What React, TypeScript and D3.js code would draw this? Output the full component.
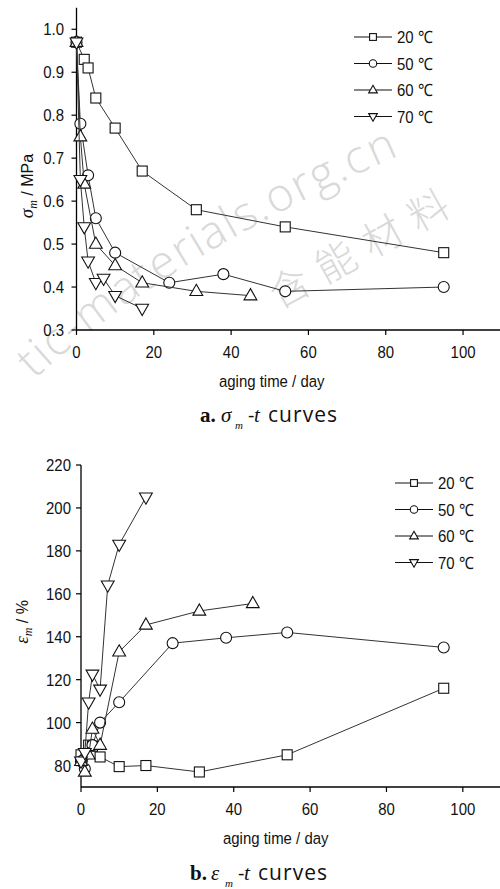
import React from 'react';
import * as d3 from 'd3';

// Legend labels and marker shapes, one per aging temperature
const tempLabels = ['20 ℃', '50 ℃', '60 ℃', '70 ℃'];
const markerShapes = ['square', 'circle', 'up', 'down'];

// Panel a: maximum tensile stress σm (MPa) vs aging time (day)
const stressDays20 = [0, 2, 3, 5, 10, 17, 31, 54, 95];
const stressVals20 = [0.97, 0.93, 0.91, 0.84, 0.77, 0.67, 0.58, 0.54, 0.48];
const stressDays50 = [0, 1, 3, 5, 10, 24, 38, 54, 95];
const stressVals50 = [0.97, 0.78, 0.66, 0.56, 0.48, 0.41, 0.43, 0.39, 0.40];
const stressDays60 = [0, 1, 2, 5, 10, 17, 31, 45];
const stressVals60 = [0.97, 0.75, 0.64, 0.50, 0.45, 0.41, 0.39, 0.38];
const stressDays70 = [0, 1, 2, 3, 5, 7, 10, 17];
const stressVals70 = [0.97, 0.65, 0.54, 0.46, 0.41, 0.42, 0.38, 0.35];

// Panel b: strain at maximum stress εm (%) vs aging time (day)
const strainDays20 = [0, 2, 3, 5, 10, 17, 31, 54, 95];
const strainVals20 = [85, 89.5, 89, 84, 79.5, 80, 77, 85, 116];
const strainDays50 = [0, 1, 3, 5, 10, 24, 38, 54, 95];
const strainVals50 = [82, 78.5, 89.5, 100, 109.5, 137, 139.5, 142, 135];
const strainDays60 = [0, 1, 2, 3, 5, 10, 17, 31, 45];
const strainVals60 = [82, 77, 85, 97, 89.5, 133, 145.5, 152, 155.5];
const strainDays70 = [0, 1, 2, 3, 5, 7, 10, 17];
const strainVals70 = [82, 86, 109.5, 122.5, 115.5, 164, 183, 205];

// Axis ticks
const xTicks = [0, 20, 40, 60, 80, 100];
const stressTicks = [0.3, 0.4, 0.5, 0.6, 0.7, 0.8, 0.9, 1.0];
const strainTicks = [80, 100, 120, 140, 160, 180, 200, 220];

// Watermark strings
const wmLatin = 'tic-materials.org.cn';
const wmChinese = '含能材料';

const SANS = "'Liberation Sans', Arial, sans-serif";
const SERIF = "'Liberation Serif', 'DejaVu Serif', serif";
const CAPTION = "'Open Sans', 'DejaVu Sans', sans-serif";
const WM_FONT = "'Open Sans', 'Liberation Sans', sans-serif";

type Pt = { d: number; v: number };
const zipPts = (days: number[], vals: number[]): Pt[] => days.map((d, i) => ({ d, v: vals[i] }));

const stressSeries = [
  zipPts(stressDays20, stressVals20),
  zipPts(stressDays50, stressVals50),
  zipPts(stressDays60, stressVals60),
  zipPts(stressDays70, stressVals70),
];
const strainSeries = [
  zipPts(strainDays20, strainVals20),
  zipPts(strainDays50, strainVals50),
  zipPts(strainDays60, strainVals60),
  zipPts(strainDays70, strainVals70),
];

// Lay single glyphs along a quadratic curve so the text follows an arc
type Glyph = { ch: string; x: number; y: number; a: number };
function layoutOnCurve(
  text: string,
  font: string,
  p0: [number, number],
  c: [number, number],
  p1: [number, number],
  fill: number
): Glyph[] {
  let widths: number[];
  try {
    const ctx = document.createElement('canvas').getContext('2d')!;
    ctx.font = font;
    widths = Array.from(text).map((ch) => ctx.measureText(ch).width);
  } catch {
    widths = Array.from(text).map(() => 20);
  }
  const N = 600;
  const pts: [number, number][] = [];
  for (let i = 0; i <= N; i++) {
    const t = i / N;
    const u = 1 - t;
    pts.push([u * u * p0[0] + 2 * u * t * c[0] + t * t * p1[0], u * u * p0[1] + 2 * u * t * c[1] + t * t * p1[1]]);
  }
  const cum = [0];
  for (let i = 1; i <= N; i++) cum.push(cum[i - 1] + Math.hypot(pts[i][0] - pts[i - 1][0], pts[i][1] - pts[i - 1][1]));
  const total = cum[N] * fill;
  const sumW = d3.sum(widths);
  const k = total / sumW;
  const out: Glyph[] = [];
  let acc = 0;
  Array.from(text).forEach((ch, i) => {
    const s = acc + (widths[i] * k) / 2;
    acc += widths[i] * k;
    const j = Math.min(N - 1, d3.bisectLeft(cum, s));
    const [ax, ay] = pts[Math.max(0, j - 1)];
    const [bx, by] = pts[j + 1 > N ? N : j + 1];
    out.push({ ch, x: pts[j][0], y: pts[j][1], a: (Math.atan2(by - ay, bx - ax) * 180) / Math.PI });
  });
  return out;
}

// Condensed sans text (horizontally squeezed Liberation Sans)
function NText({
  x,
  y,
  anchor = 'start',
  dy,
  children,
}: {
  x: number;
  y: number;
  anchor?: string;
  dy?: string;
  children: React.ReactNode;
}) {
  return (
    <text
      transform={`translate(${x},${y}) scale(0.88,1)`}
      textAnchor={anchor}
      dy={dy}
      fontFamily={SANS}
      fontSize={17}
      fill="#111"
    >
      {children}
    </text>
  );
}

function Marker({ shape, x, y, s = 1 }: { shape: string; x: number; y: number; s?: number }) {
  const common = { fill: '#fff', stroke: '#111', strokeWidth: 1.1 };
  if (shape === 'square') {
    const h = 5 * s;
    return <rect x={x - h} y={y - h} width={2 * h} height={2 * h} {...common} />;
  }
  if (shape === 'circle') {
    return <circle cx={x} cy={y} r={5.5 * s} {...common} />;
  }
  const dir = shape === 'up' ? 1 : -1;
  const p = d3.path();
  p.moveTo(x, y - 7 * s * dir);
  p.lineTo(x + 6.4 * s, y + 4.2 * s * dir);
  p.lineTo(x - 6.4 * s, y + 4.2 * s * dir);
  p.closePath();
  return <path d={p.toString()} {...common} />;
}

type PanelProps = {
  series: Pt[][];
  x: d3.ScaleLinear<number, number>;
  y: d3.ScaleLinear<number, number>;
  yTicks: number[];
  yFmt: (v: number) => string;
  yLabelRight: number;
  xTitleAt: number;
  legendX: number;
  legendY: number;
};

function Panel({ series, x, y, yTicks, yFmt, yLabelRight, xTitleAt, legendX, legendY }: PanelProps) {
  const [x0, x1] = x.range();
  const [yb, yt] = y.range();
  const line = d3
    .line<Pt>()
    .x((p) => x(p.d))
    .y((p) => y(p.v));
  return (
    <g>
      {/* axes */}
      <line x1={x0} x2={x0} y1={yb} y2={yt} stroke="#000" strokeWidth={1.3} />
      <line x1={x0} x2={x1} y1={yb} y2={yb} stroke="#000" strokeWidth={1.3} />
      {yTicks.map((t) => (
        <g key={'y' + t}>
          <line x1={x0 - 5} x2={x0} y1={y(t)} y2={y(t)} stroke="#000" strokeWidth={1.2} />
          <NText x={yLabelRight} y={y(t)} dy="0.36em" anchor="end">
            {yFmt(t)}
          </NText>
        </g>
      ))}
      {xTicks.map((t) => (
        <g key={'x' + t}>
          <line x1={x(t)} x2={x(t)} y1={yb} y2={yb + 5} stroke="#000" strokeWidth={1.2} />
          <NText x={x(t)} y={yb + 28} anchor="middle">
            {t}
          </NText>
        </g>
      ))}
      <NText x={x(xTitleAt)} y={yb + 57} anchor="middle">
        aging time / day
      </NText>
      {/* series */}
      {series.map((pts, i) => (
        <g key={'s' + i}>
          <path d={line(pts) || ''} fill="none" stroke="#333" strokeWidth={1} />
          {pts.map((p, j) => (
            <Marker key={j} shape={markerShapes[i]} x={x(p.d)} y={y(p.v)} />
          ))}
        </g>
      ))}
      {/* legend */}
      {tempLabels.map((lab, i) => {
        const ly = legendY + i * 26.5;
        return (
          <g key={'l' + i}>
            <line x1={legendX} x2={legendX + 38} y1={ly} y2={ly} stroke="#111" strokeWidth={1.2} />
            <Marker shape={markerShapes[i]} x={legendX + 19} y={ly} s={0.68} />
            <NText x={legendX + 43} y={ly} dy="0.36em">
              {lab}
            </NText>
          </g>
        );
      })}
    </g>
  );
}

function Caption({ x, y, letter, sym }: { x: number; y: number; letter: string; sym: string }) {
  return (
    <g fill="#111">
      <text x={x} y={y} fontFamily={SERIF} fontWeight="bold" fontSize={21}>
        {letter}
      </text>
      <text x={x + 21} y={y} fontFamily={SERIF} fontStyle="italic" fontSize={21}>
        {sym}
      </text>
      <text x={x + 35} y={y + 7} fontFamily={SERIF} fontStyle="italic" fontSize={11}>
        m
      </text>
      <text x={x + 48} y={y} fontFamily={CAPTION} fontSize={20}>
        -
      </text>
      <text x={x + 54} y={y} fontFamily={SERIF} fontStyle="italic" fontSize={21}>
        t
      </text>
      <text x={x + 68} y={y} fontFamily={CAPTION} fontSize={21} textLength={69} lengthAdjust="spacing">
        curves
      </text>
    </g>
  );
}

export default function App() {
  const xA = d3.scaleLinear().domain([0, 110]).range([76.5, 501.7]);
  const yA = d3.scaleLinear().domain([0.3, 1.05]).range([330, 7.8]);
  const xB = d3.scaleLinear().domain([0, 110]).range([81, 501]);
  const yB = d3.scaleLinear().domain([70, 220]).range([787, 465]);
  const fmtA = d3.format('.1f');
  const fmtB = d3.format('d');

  const latinGlyphs = layoutOnCurve(wmLatin, `300 46px ${WM_FONT}`, [34, 380], [166, 256], [412, 150], 0.97);
  // Chinese watermark: evenly spaced along a straight, tilted line
  const cjkAngle = -29;
  const cjkStep = 53;
  const cjkCenter: [number, number] = [359, 249];
  const rad = (cjkAngle * Math.PI) / 180;
  const cjkGlyphs = Array.from(wmChinese).map((ch, i) => {
    const off = (i - (wmChinese.length - 1) / 2) * cjkStep;
    return { ch, x: cjkCenter[0] + off * Math.cos(rad), y: cjkCenter[1] + off * Math.sin(rad) };
  });

  return (
    <svg
      width={500}
      height={889}
      viewBox="0 0 500 889"
      style={{ position: 'absolute', left: 0, top: 0, background: '#fff' }}
    >
      <rect x={0} y={0} width={500} height={889} fill="#fff" />

      {/* site watermark */}
      <g fill="#d9d9d9">
        {latinGlyphs.map((g, i) => (
          <text
            key={'wl' + i}
            x={g.x}
            y={g.y}
            textAnchor="middle"
            transform={`rotate(${g.a} ${g.x} ${g.y})`}
            fontFamily={WM_FONT}
            fontWeight={300}
            fontSize={46}
          >
            {g.ch}
          </text>
        ))}
        {cjkGlyphs.map((g, i) => (
          <text
            key={'wc' + i}
            x={g.x}
            y={g.y}
            textAnchor="middle"
            dy="0.36em"
            transform={`rotate(${cjkAngle} ${g.x} ${g.y})`}
            fontFamily="'Noto Sans CJK SC', sans-serif"
            fontWeight={300}
            fontSize={40}
          >
            {g.ch}
          </text>
        ))}
      </g>

      <Panel
        series={stressSeries}
        x={xA}
        y={yA}
        yTicks={stressTicks}
        yFmt={fmtA}
        yLabelRight={64}
        xTitleAt={50.5}
        legendX={354}
        legendY={37}
      />
      <Panel
        series={strainSeries}
        x={xB}
        y={yB}
        yTicks={strainTicks}
        yFmt={fmtB}
        yLabelRight={71}
        xTitleAt={51}
        legendX={395}
        legendY={483}
      />

      {/* y-axis titles */}
      <text transform="translate(33 186) rotate(-90)" textAnchor="middle" fill="#111">
        <tspan fontFamily={SERIF} fontStyle="italic" fontSize={19}>σ</tspan>
        <tspan fontFamily={SERIF} fontStyle="italic" fontSize={12} dy={4}>m</tspan>
        <tspan fontFamily={SANS} fontSize={16} dy={-4}>{'  / MPa'}</tspan>
      </text>
      <text transform="translate(28 622) rotate(-90)" textAnchor="middle" fill="#111">
        <tspan fontFamily={SERIF} fontStyle="italic" fontSize={19}>ε</tspan>
        <tspan fontFamily={SERIF} fontStyle="italic" fontSize={12} dy={4}>m</tspan>
        <tspan fontFamily={SANS} fontSize={16} dy={-4}>{'  / %'}</tspan>
      </text>

      {/* panel captions */}
      <Caption x={200} y={422} letter="a." sym="σ" />
      <Caption x={190} y={880} letter="b." sym="ε" />
    </svg>
  );
}
